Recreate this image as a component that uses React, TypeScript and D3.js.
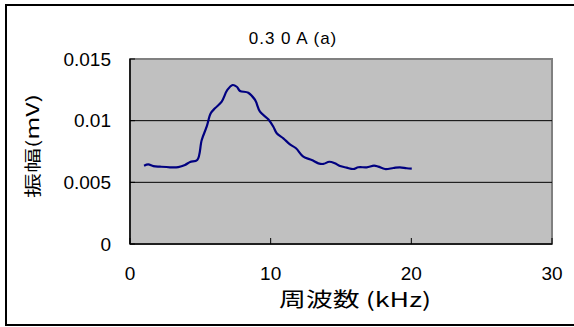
import React from "react";
import * as d3 from "d3";

// frequency (kHz) and amplitude (mV)
const freq = [1.0, 1.3, 1.66, 2.13, 2.84, 3.43, 3.91, 4.27, 4.78, 5.1, 5.45, 5.74, 6.04, 6.52, 6.92, 7.3, 7.59, 7.82, 8.41, 8.89, 9.24, 9.83, 10.19, 10.43, 10.9, 11.37, 11.8, 12.32, 12.92, 13.39, 13.74, 14.17, 14.57, 14.93, 15.4, 15.87, 16.23, 16.83, 17.35, 17.65, 18.13, 18.72, 19.19, 19.67, 20.03];
const amp = [0.00635, 0.00646, 0.00632, 0.00627, 0.00622, 0.00624, 0.00641, 0.00665, 0.00681, 0.00843, 0.00951, 0.0106, 0.011, 0.01154, 0.01249, 0.01289, 0.01275, 0.01241, 0.01227, 0.01168, 0.01073, 0.01011, 0.00951, 0.00898, 0.00857, 0.00808, 0.00776, 0.00708, 0.00681, 0.00654, 0.00649, 0.00667, 0.00654, 0.00632, 0.00619, 0.00608, 0.00622, 0.00622, 0.00635, 0.00627, 0.00608, 0.00616, 0.00622, 0.00614, 0.00611];

const xTicks = [0, 10, 20, 30];
const yTicks = [0, 0.005, 0.01, 0.015];
const yTickLabels = ["0", "0.005", "0.01", "0.015"];

const title = "0.3 0 A  (a)";
const xTitle = "周波数 (kHz)";
const yTitle = "振幅(mV)";

export default function App() {
  const width = 574;
  const height = 327;
  const plot = { left: 130, right: 552, top: 59, bottom: 244 };

  const xScale = d3.scaleLinear().domain([0, 30]).range([plot.left, plot.right]);
  const yScale = d3.scaleLinear().domain([0, 0.015]).range([plot.bottom, plot.top]);

  const points: [number, number][] = freq.map((f, i) => [f, amp[i]]);
  const line = d3
    .line<[number, number]>()
    .x((d) => xScale(d[0]))
    .y((d) => yScale(d[1]))
    .curve(d3.curveCatmullRom);

  const font = "'Liberation Sans', Arial, sans-serif";
  const jpFont = "'Noto Sans CJK JP', sans-serif";

  return (
    <svg
      width={width}
      height={height}
      style={{ position: "absolute", left: 0, top: 0, background: "#fff" }}
    >
      {/* outer frame */}
      <rect x={6} y={5} width={620} height={320} fill="none" stroke="#000" strokeWidth={2} />

      {/* plot area */}
      <rect
        x={plot.left}
        y={plot.top}
        width={plot.right - plot.left}
        height={plot.bottom - plot.top}
        fill="#c0c0c0"
        stroke="#808080"
        strokeWidth={2}
      />

      {/* grid lines */}
      {yTicks.slice(1, 3).map((t) => (
        <line key={t} x1={plot.left} x2={plot.right} y1={yScale(t)} y2={yScale(t)} stroke="#000" strokeWidth={1} />
      ))}

      {/* axes */}
      <line x1={plot.left} x2={plot.left} y1={plot.top} y2={plot.bottom} stroke="#000" strokeWidth={1.5} />
      <line x1={plot.left} x2={plot.right} y1={plot.bottom} y2={plot.bottom} stroke="#000" strokeWidth={1.5} />
      {yTicks.map((t) => (
        <line key={t} x1={plot.left} x2={plot.left + 5} y1={yScale(t)} y2={yScale(t)} stroke="#000" />
      ))}
      {xTicks.map((t) => (
        <line key={t} x1={xScale(t)} x2={xScale(t)} y1={plot.bottom} y2={plot.bottom - 6} stroke="#000" />
      ))}

      {/* data line */}
      <path d={line(points) ?? ""} fill="none" stroke="#000080" strokeWidth={2.2} strokeLinejoin="round" />

      {/* tick labels */}
      {yTicks.map((t, i) => (
        <text
          key={t}
          x={111}
          y={yScale(t)}
          textAnchor="end"
          dominantBaseline="central"
          fontFamily={font}
          fontSize={19}
        >
          {yTickLabels[i]}
        </text>
      ))}
      {xTicks.map((t) => (
        <text
          key={t}
          x={xScale(t)}
          y={273}
          textAnchor="middle"
          dominantBaseline="central"
          fontFamily={font}
          fontSize={19}
        >
          {t}
        </text>
      ))}

      {/* titles */}
      <text
        x={293}
        y={38}
        textAnchor="middle"
        dominantBaseline="central"
        fontFamily={font}
        fontSize={17}
        letterSpacing={1}
      >
        {title}
      </text>
      <text
        x={355}
        y={298}
        textAnchor="middle"
        dominantBaseline="central"
        fontFamily={jpFont}
        fontSize={20}
        textLength={152}
        lengthAdjust="spacingAndGlyphs"
      >
        {xTitle}
      </text>
      <text
        transform={`translate(31,146) rotate(-90)`}
        textAnchor="middle"
        dominantBaseline="central"
        fontFamily={jpFont}
        fontSize={17}
        textLength={104}
        lengthAdjust="spacingAndGlyphs"
      >
        {yTitle}
      </text>
    </svg>
  );
}
